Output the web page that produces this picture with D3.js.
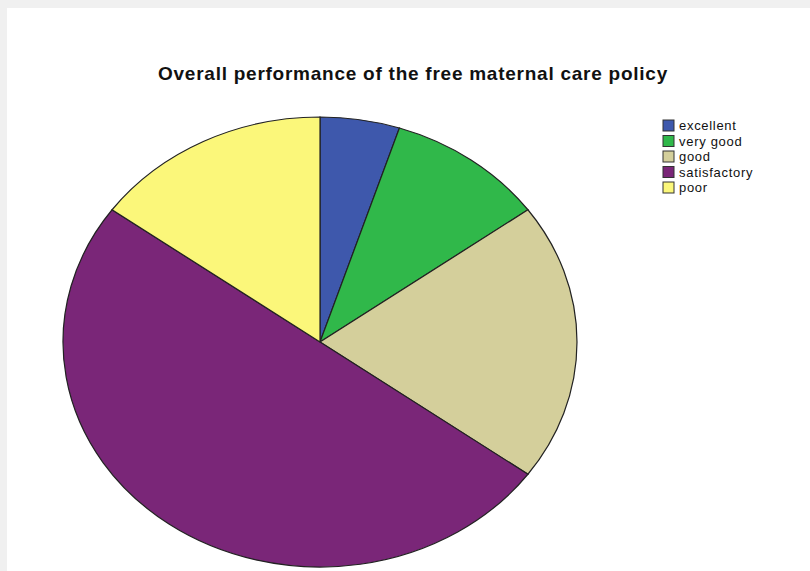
<!DOCTYPE html>
<html>
<head>
<meta charset="utf-8">
<script src="https://cdn.jsdelivr.net/npm/d3@7"></script>
<style>
  body { margin: 0; background: #f0f0f0; }
  #chart { position: absolute; left: 7px; top: 8px; width: 803px; height: 563px; background: #fff; }
  svg { font-family: "Liberation Sans", Arial, sans-serif; }
</style>
</head>
<body>
<div id="chart"></div>
<script>
const categories = ['excellent', 'very good', 'good', 'satisfactory', 'poor'];
const values = [5, 10, 20, 50, 15];
const colors = ['#3e58ac', '#30b84a', '#d4cf9b', '#7a2678', '#fbf77a'];

const width = 810, height = 571;
const svg = d3.select('#chart').append('svg')
  .attr('width', width).attr('height', height)
  .style('position', 'absolute').style('left', '-7px').style('top', '-8px');

svg.append('text')
  .attr('x', 413).attr('y', 80)
  .attr('text-anchor', 'middle')
  .attr('font-size', 19).attr('font-weight', 'bold')
  .attr('letter-spacing', 0.75)
  .attr('fill', '#111')
  .text('Overall performance of the free maternal care policy');

// pie drawn as a circle and squashed into an ellipse
const cx = 320, cy = 342, rx = 257, ry = 225;
const data = categories.map((c, i) => ({cat: c, value: values[i]}));
const pie = d3.pie().value(d => d.value).sort(null);
const arc = d3.arc().innerRadius(0).outerRadius(ry);

const pieG = svg.append('g')
  .attr('transform', `translate(${cx},${cy}) scale(${rx / ry},1)`);
pieG.selectAll('path')
  .data(pie(data))
  .join('path')
  .attr('d', arc)
  .attr('fill', (d, i) => colors[i])
  .attr('stroke', '#222')
  .attr('stroke-width', 1.2)
  .attr('vector-effect', 'non-scaling-stroke');

const legend = svg.append('g').attr('transform', 'translate(663,120)');
const rows = legend.selectAll('g')
  .data(categories)
  .join('g')
  .attr('transform', (d, i) => `translate(0,${i * 15.5})`);
rows.append('rect')
  .attr('width', 11).attr('height', 11)
  .attr('fill', (d, i) => colors[i])
  .attr('stroke', '#333').attr('stroke-width', 1);
rows.append('text')
  .attr('x', 16).attr('y', 10)
  .attr('font-size', 13).attr('fill', '#111')
  .attr('letter-spacing', 0.7)
  .text(d => d);
</script>
</body>
</html>
